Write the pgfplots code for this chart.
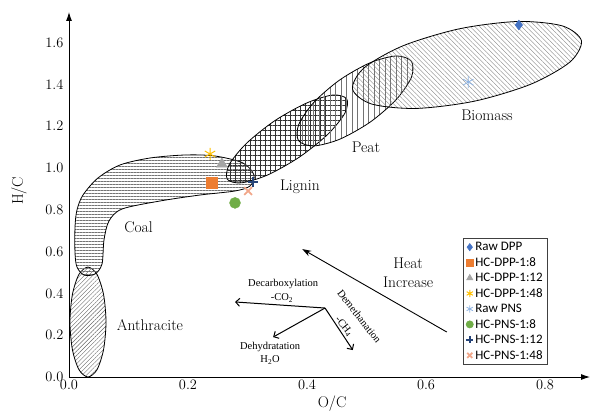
\documentclass[border=0pt]{standalone}
\usepackage{pgfplots}
\pgfplotsset{compat=1.18}
\usepackage{fontspec}
\usetikzlibrary{patterns.meta,arrows.meta}
\newfontfamily\timesfont{Liberation Serif}
\newfontfamily\carlito{Carlito}
\definecolor{cRawDPP}{HTML}{4472C4}
\definecolor{cDPPa}{HTML}{ED7D31}
\definecolor{cDPPb}{HTML}{A5A5A5}
\definecolor{cDPPc}{HTML}{FFC000}
\definecolor{cRawPNS}{HTML}{8FB4E3}
\definecolor{cPNSa}{HTML}{70AD47}
\definecolor{cPNSb}{HTML}{264478}
\definecolor{cPNSc}{HTML}{F1A78A}
\begin{document}
\begin{tikzpicture}
\useasboundingbox (-69pt,-38pt) rectangle (524pt,377pt);
\begin{axis}[
  scale only axis, width=521pt, height=365pt,
  xmin=0, xmax=0.8756, ymin=0, ymax=1.7464,
  clip=false,
  axis lines=left,
  axis line style={line width=0.9pt, -{Latex[length=9pt,width=6pt]}},
  xtick={0,0.2,0.4,0.6,0.8},
  ytick={0,0.2,0.4,0.6,0.8,1.0,1.2,1.4,1.6},
  major tick length=0pt,
  tick label style={font=\fontsize{15}{18}\selectfont},
  xticklabel style={/pgf/number format/fixed,/pgf/number format/fixed zerofill,/pgf/number format/precision=1},
  yticklabel style={/pgf/number format/fixed,/pgf/number format/fixed zerofill,/pgf/number format/precision=1, xshift=-2pt},
  xlabel={O/C}, ylabel={H/C},
  label style={font=\fontsize{15.5}{18}\selectfont},
  xlabel style={at={(axis description cs:0.505,-0.074)}, anchor=center},
  ylabel style={at={(axis description cs:-0.096,0.51)}, anchor=center},
  legend style={at={(0.756,0.381)}, anchor=north west, draw=black!75, line width=0.6pt,
    font=\carlito\fontsize{13}{15}\selectfont, row sep=1.3pt, inner xsep=3pt, inner ysep=2pt,
    cells={anchor=west}},
  legend image code/.code={\draw[mark repeat=2,mark phase=2,#1] plot coordinates {(0cm,0cm) (0.25cm,0cm) (0.45cm,0cm)};},
  legend image post style={mark size=3.6pt},
]
% ---- regions ----
% Anthracite
\addplot[forget plot, draw=black, line width=0.8pt, smooth cycle,
  pattern={Lines[angle=45,distance=3pt,line width=0.4pt]}, pattern color=black!60]
  coordinates {(0.0622,0.263) (0.0581,0.3945) (0.0471,0.4908) (0.0319,0.526) (0.0167,0.4908) (0.0057,0.3945)
   (0.0016,0.263) (0.0057,0.1315) (0.0167,0.0352) (0.0319,0.0) (0.0471,0.0352) (0.0581,0.1315)};
% Coal
\addplot[forget plot, draw=black, line width=0.8pt, smooth cycle,
  pattern={Lines[angle=0,distance=3pt,line width=0.4pt]}, pattern color=black!55]
  coordinates {(0.0101,0.7177) (0.0101,0.5933) (0.0134,0.5263) (0.0252,0.4880) (0.0437,0.4928) (0.0555,0.5407)
   (0.0588,0.6555) (0.0672,0.7464) (0.0891,0.8038) (0.1529,0.8421) (0.2202,0.8708) (0.2790,0.8900)
   (0.3042,0.9139) (0.3109,0.9665) (0.2924,1.0239) (0.2454,1.0574) (0.1950,1.0622) (0.1361,1.0478)
   (0.0857,1.0144) (0.0487,0.9522) (0.0235,0.8708) (0.0134,0.7990)};
% Lignin
\addplot[forget plot, draw=black, line width=0.8pt, smooth cycle,
  pattern={Hatch[angle=0,distance=5pt,line width=0.5pt]}, pattern color=black!80]
  coordinates {(0.4667,1.331) (0.4429,1.349) (0.3987,1.310) (0.3457,1.226) (0.2983,1.118) (0.2692,1.016)
   (0.2661,0.946) (0.2898,0.929) (0.3341,0.967) (0.3871,1.052) (0.4345,1.160) (0.4636,1.262)};
% Peat
\addplot[forget plot, draw=black, line width=0.8pt, smooth cycle,
  pattern={Lines[angle=90,distance=5.5pt,line width=0.4pt]}, pattern color=black!55]
  coordinates {(0.5756,1.510) (0.5503,1.536) (0.5065,1.504) (0.4556,1.4225) (0.4115,1.314) (0.3860,1.2074)
   (0.3857,1.131) (0.4110,1.1055) (0.4549,1.1376) (0.5057,1.2187) (0.5498,1.327) (0.5754,1.4337)};
% Biomass
\addplot[forget plot, draw=black, line width=0.8pt, smooth cycle,
  pattern={Lines[angle=-45,distance=3.3pt,line width=0.4pt]}, pattern color=black!50]
  coordinates {(0.8612,1.609) (0.8290,1.680) (0.7538,1.701) (0.6560,1.666) (0.5616,1.585) (0.4959,1.479)
   (0.4766,1.377) (0.5088,1.306) (0.5840,1.285) (0.6819,1.320) (0.7762,1.401) (0.8419,1.507)};
% ---- region labels ----
\begin{scope}[every node/.style={font=\fontsize{15.5}{19}\selectfont}]
\node at (axis cs:0.7025,1.2536) {Biomass};
\node at (axis cs:0.499,1.100) {Peat};
\node at (axis cs:0.388,0.909) {Lignin};
\node at (axis cs:0.1168,0.7177) {Coal};
\node at (axis cs:0.136,0.249) {Anthracite};
\node[align=center] at (axis cs:0.570,0.50) {Heat\\Increase};
\end{scope}
% ---- reaction arrows ----
\draw[line width=1pt, -{Straight Barb[length=4pt,width=8pt]}] (axis cs:0.4303,0.330) -- (axis cs:0.279,0.359);
\draw[line width=1pt, -{Straight Barb[length=4pt,width=8pt]}] (axis cs:0.4303,0.330) -- (axis cs:0.343,0.191);
\draw[line width=1pt, -{Straight Barb[length=4pt,width=8pt]}] (axis cs:0.4303,0.330) -- (axis cs:0.477,0.129);
\draw[line width=0.9pt, -{Stealth[length=9pt,width=6pt]}] (axis cs:0.635,0.215) -- (axis cs:0.392,0.612);
\begin{scope}[every node/.style={font=\timesfont\fontsize{10.5}{12}\selectfont, inner sep=0pt}]
\node at (axis cs:0.360,0.445) {Decarboxylation};
\node at (axis cs:0.358,0.378) {-CO\textsubscript{2}};
\node at (axis cs:0.338,0.144) {Dehydratation};
\node at (axis cs:0.338,0.081) {H\textsubscript{2}O};
\node[rotate=-52] at (axis cs:0.488,0.290) {Demethanation};
\node[rotate=-52] at (axis cs:0.462,0.242) {-CH\textsubscript{4}};
\end{scope}
% ---- data ----
\addplot[only marks, mark=diamond*, mark size=5pt, color=cRawDPP] coordinates {(0.756,1.684)};
\addlegendentry{Raw DPP}
\addplot[only marks, mark=square*, mark size=5.5pt, color=cDPPa] coordinates {(0.239,0.928)};
\addlegendentry{HC-DPP-1:8}
\addplot[only marks, mark=triangle*, mark size=6.3pt, color=cDPPb] coordinates {(0.257,1.019)};
\addlegendentry{HC-DPP-1:12}
\addplot[only marks, mark=asterisk, mark size=6pt, color=cDPPc, mark options={line width=1pt}] coordinates {(0.237,1.067)};
\addlegendentry{HC-DPP-1:48}
\addplot[only marks, mark=asterisk, mark size=6pt, color=cRawPNS, mark options={line width=0.8pt}] coordinates {(0.671,1.411)};
\addlegendentry{Raw PNS}
\addplot[only marks, mark=*, mark size=5.5pt, color=cPNSa] coordinates {(0.279,0.833)};
\addlegendentry{HC-PNS-1:8}
\addplot[only marks, mark=+, mark size=5pt, color=cPNSb, mark options={line width=2.5pt}] coordinates {(0.309,0.933)};
\addlegendentry{HC-PNS-1:12}
\addplot[only marks, mark=x, mark size=5.5pt, color=cPNSc, mark options={line width=1.8pt}] coordinates {(0.301,0.890)};
\addlegendentry{HC-PNS-1:48}
\end{axis}
\end{tikzpicture}
\end{document}
